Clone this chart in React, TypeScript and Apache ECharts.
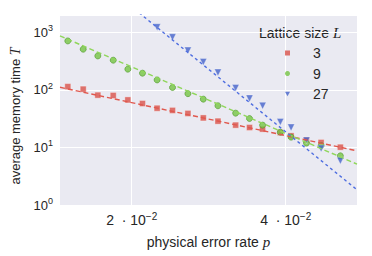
import React, { useEffect, useRef } from "react";
import * as echarts from "echarts";

// physical error rate p (x positions of the measurements)
const pValues = [
  0.0117, 0.0137, 0.0156, 0.0176, 0.0195, 0.0214, 0.0233, 0.0253, 0.0273,
  0.0293, 0.0312, 0.0335, 0.0353, 0.037, 0.0393, 0.0407, 0.0427, 0.0446, 0.0471,
];
// average memory time T for each lattice size
const tL3 = [114, 103, 81, 80, 67, 58, 48, 44, 39, 32.6, 28.6, 24.4, 22.2, 20.8, 18.1, 15.9, 13.5, 12.2, 10.1];
const tL9 = [709, 509, 389, 328, 229, 195, 149, 110, 86, 69, 53, 39.4, 31.8, 24.4, 18.4, 15.1, 11.9, 10.8, 7.15];
const tL27 = [null, null, null, null, null, null, 1227, 822, 481, 306, 200, 108, 71, 53, 27.8, 22.2, 13.2, 9.6, 5.9];
// fitted dashed lines (end points)
const fitP = [0.010688, 0.04926];
const fitL3 = [111, 8.73];
const fitL9 = [866, 5.13];
const fitL27 = [28500, 1.84];

const sizeNames = ["3", "9", "27"];
const xTicks = [0.02, 0.04];
const xTickLabels: Record<string, string> = { "0.02": "2", "0.04": "4" };

const colors = ["#d9534a", "#76c443", "#4563c9"];
const lineColors = ["#e0584e", "#8fd65a", "#4f6ee0"];

const textColor = "#262626";
const font = "Liberation Sans";

export default function App() {
  const ref = useRef<HTMLDivElement>(null);
  useEffect(() => {
    document.body.style.margin = "0";
    const chart = echarts.init(ref.current!, undefined, { renderer: "svg" });
    const pts = (ys: (number | null)[]) =>
      pValues.map((p, i) => [p, ys[i]]).filter((d) => d[1] !== null);
    const fit = (ys: number[]) => fitP.map((p, i) => [p, ys[i]]);
    const symbols = ["rect", "circle", "triangle"];
    const series: any[] = [];
    [tL3, tL9, tL27].forEach((ys, k) => {
      series.push({
        name: sizeNames[k],
        type: "scatter",
        data: pts(ys),
        symbol: symbols[k],
        symbolRotate: k === 2 ? 180 : 0,
        symbolSize: k === 2 ? 7 : 6,
        itemStyle: {
          color: colors[k],
          borderColor: k === 1 ? "#4e9a2a" : "rgba(255,255,255,0.5)",
          borderWidth: 0.8,
        },
        z: 3,
      });
    });
    [fitL3, fitL9, fitL27].forEach((ys, k) => {
      series.push({
        name: "fit" + sizeNames[k],
        type: "line",
        data: fit(ys),
        showSymbol: false,
        symbol: "none",
        lineStyle: {
          color: lineColors[k],
          width: 1.4,
          type: k === 2 ? [3, 3] : [5, 3],
        },
        z: 4,
        silent: true,
      });
    });

    chart.setOption({
      animation: false,
      textStyle: { fontFamily: font, color: textColor },
      grid: {
        left: 60,
        top: 15,
        width: 297,
        height: 190,
        show: true,
        backgroundColor: "#EAEAF2",
        borderWidth: 0,
      },
      xAxis: {
        type: "value",
        min: fitP[0],
        max: fitP[1],
        axisLine: { show: false },
        axisTick: { show: false, customValues: xTicks },
        splitLine: { show: true, lineStyle: { color: "#ffffff", width: 1 } },
        axisLabel: {
          customValues: xTicks,
          margin: 6,
          formatter: (v: number) => `{a|${xTickLabels[String(v)] ?? ""}  · 10}{s|−2}`,
          rich: {
            a: { fontSize: 14, fontFamily: font, color: textColor },
            s: { fontSize: 10, fontFamily: font, color: textColor, padding: [0, 0, 8, 0] },
          },
        },
        name: "{a|physical error rate }{i|p}",
        nameLocation: "middle",
        nameGap: 29,
        nameTextStyle: {
          rich: {
            a: { fontSize: 14, fontFamily: font, color: textColor },
            i: { fontSize: 15, fontFamily: "Liberation Serif", fontStyle: "italic", color: textColor },
          },
        },
      },
      yAxis: {
        type: "log",
        logBase: 10,
        min: 1,
        max: 2000,
        axisLine: { show: false },
        axisTick: { show: false },
        splitLine: { show: true, lineStyle: { color: "#ffffff", width: 1 } },
        axisLabel: {
          margin: 7,
          showMaxLabel: false,
          formatter: (v: number) => {
            const e = Math.round(Math.log10(v));
            if (Math.abs(Math.pow(10, e) - v) > 1e-6 * v) return "";
            return `{a|10}{s|${e}}`;
          },
          rich: {
            a: { fontSize: 13, fontFamily: font, color: textColor },
            s: { fontSize: 9, fontFamily: font, color: textColor, padding: [0, 0, 8, 0] },
          },
        },
        name: "{a|average memory time }{i|T}",
        nameLocation: "middle",
        nameGap: 38,
        nameTextStyle: {
          padding: [0, 12, 0, 0],
          rich: {
            a: { fontSize: 13, fontFamily: font, color: textColor },
            i: { fontSize: 14, fontFamily: "Liberation Serif", fontStyle: "italic", color: textColor },
          },
        },
      },
      legend: {
        data: [
          { name: sizeNames[0], icon: "rect" },
          { name: sizeNames[1], icon: "circle" },
          { name: sizeNames[2], icon: "path://M0,0 L10,0 L5,9 Z" },
        ],
        orient: "vertical",
        left: 285,
        top: 45,
        padding: 0,
        itemWidth: 5,
        itemHeight: 5,
        itemGap: 4.5,
        itemStyle: { borderWidth: 0 },
        textStyle: {
          fontSize: 14,
          fontFamily: font,
          color: textColor,
          lineHeight: 16,
          padding: [0, 0, 0, 18],
        },
      },
      graphic: [
        {
          type: "text",
          left: 259,
          top: 25,
          style: {
            text: "{a|Lattice size }{i|L}",
            rich: {
              a: { fontSize: 14, fontFamily: font, fill: textColor },
              i: { fontSize: 15, fontFamily: "Liberation Serif", fontStyle: "italic", fill: textColor },
            },
          },
        },
      ],
      series,
    });
    return () => chart.dispose();
  }, []);
  return <div ref={ref} style={{ width: 372, height: 256 }} />;
}
